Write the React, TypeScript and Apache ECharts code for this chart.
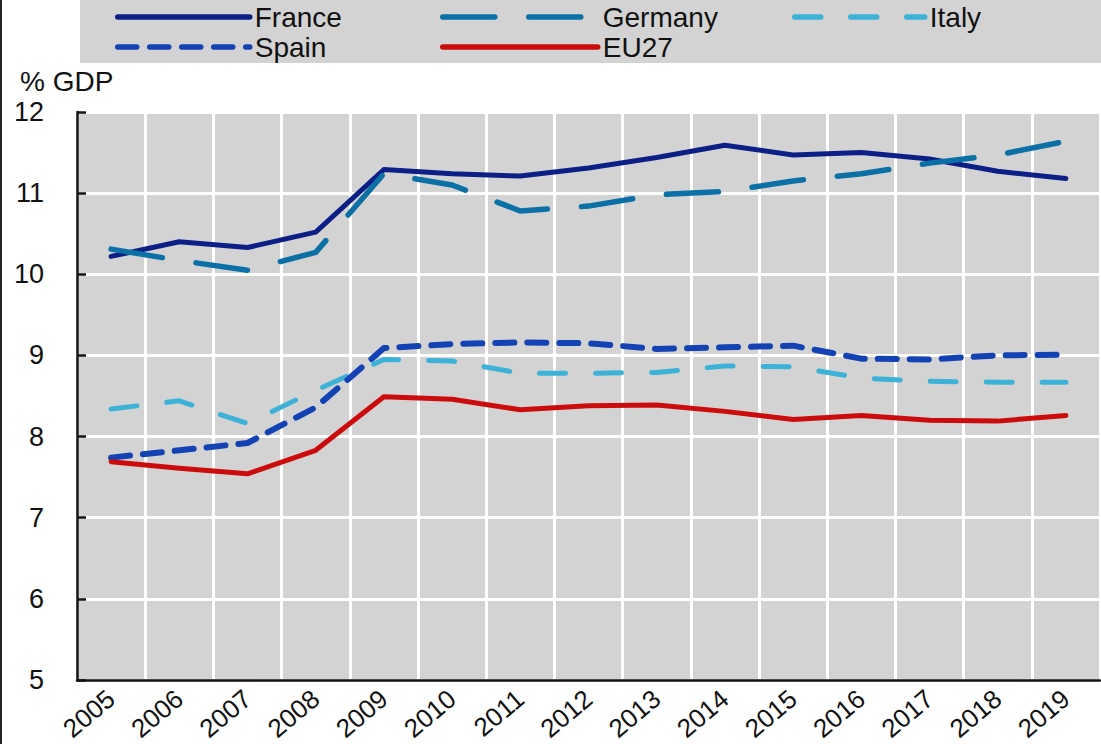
import React, { useEffect, useRef } from 'react';
import * as echarts from 'echarts';

const years = ['2005', '2006', '2007', '2008', '2009', '2010', '2011', '2012', '2013', '2014', '2015', '2016', '2017', '2018', '2019'];
const france = [10.22, 10.4, 10.33, 10.52, 11.29, 11.24, 11.21, 11.31, 11.44, 11.59, 11.47, 11.5, 11.42, 11.27, 11.18];
const germany = [10.31, 10.17, 10.05, 10.27, 11.24, 11.1, 10.78, 10.84, 10.98, 11.02, 11.15, 11.24, 11.37, 11.47, 11.64];
const italy = [8.34, 8.44, 8.16, 8.57, 8.95, 8.93, 8.78, 8.78, 8.79, 8.87, 8.86, 8.72, 8.68, 8.67, 8.67];
const spain = [7.74, 7.83, 7.92, 8.36, 9.09, 9.14, 9.16, 9.15, 9.08, 9.1, 9.12, 8.96, 8.95, 9.0, 9.01];
const eu27 = [7.69, 7.61, 7.54, 7.83, 8.49, 8.46, 8.33, 8.38, 8.39, 8.31, 8.21, 8.26, 8.2, 8.19, 8.26];
const yTicks = { min: 5, max: 12, interval: 1 };
const yUnit = '% GDP';

const FONT = 'Liberation Sans, Arial, sans-serif';

export default function App() {
  const ref = useRef<HTMLDivElement>(null);
  useEffect(() => {
    if (!ref.current) return;
    const chart = echarts.init(ref.current, undefined, { renderer: 'svg' });
    const mk = (name: string, data: number[], color: string, width: number, type: any) => ({
      name,
      type: 'line',
      data,
      symbol: 'none',
      showSymbol: false,
      lineStyle: { color, width, type, cap: 'round', join: 'round' },
      itemStyle: { color },
    });
    const legendBase = (name: string, left: number, top: number, itemWidth: number) => ({
      data: [name],
      left,
      top,
      itemWidth,
      itemHeight: 14,
      z: 5,
      itemStyle: { opacity: 0, borderWidth: 0 },
      lineStyle: { width: 5.5 },
      textStyle: { fontSize: 28, lineHeight: 28, color: '#111', fontFamily: FONT },
      padding: 0,
    });
    chart.setOption({
      animation: false,
      backgroundColor: '#fff',
      textStyle: { fontFamily: FONT },
      grid: { left: 77, right: 1, top: 112, bottom: 64, show: true, backgroundColor: '#d3d3d3', borderWidth: 0 },
      legend: [
        legendBase('France', 115, 3, 132),
        legendBase('Germany', 440, 3, 155),
        legendBase('Italy', 792, 3, 130),
        legendBase('Spain', 115, 33, 132),
        legendBase('EU27', 440, 33, 155),
      ],
      graphic: [
        { type: 'rect', z: 0, shape: { x: 80, y: 0, width: 1021, height: 63 }, style: { fill: '#d3d3d3' } },
        { type: 'rect', z: 0, shape: { x: 0, y: 0, width: 2, height: 744 }, style: { fill: '#222' } },
        { type: 'text', left: 20, top: 67, style: { text: yUnit, fontSize: 28, fill: '#111', fontFamily: FONT } },
      ],
      xAxis: {
        type: 'category',
        data: years,
        boundaryGap: true,
        axisLine: { lineStyle: { color: '#111', width: 2.5 } },
        axisTick: { inside: true, length: 7, lineStyle: { color: '#111', width: 2.5 } },
        axisLabel: { rotate: 40, fontSize: 26, color: '#111', margin: 15, fontFamily: FONT, interval: 0 },
        splitLine: { show: true, lineStyle: { color: '#fff', width: 3 } },
      },
      yAxis: {
        type: 'value',
        min: yTicks.min,
        max: yTicks.max,
        interval: yTicks.interval,
        axisLine: { show: true, lineStyle: { color: '#111', width: 2.5 } },
        axisTick: { show: true, inside: true, length: 9, lineStyle: { color: '#111', width: 2.5 } },
        axisLabel: { fontSize: 27, color: '#111', margin: 33, fontFamily: FONT },
        splitLine: { show: true, lineStyle: { color: '#fff', width: 3 } },
      },
      series: [
        mk('France', france, '#0c1f86', 5, 'solid'),
        mk('Germany', germany, '#0b70a6', 5.5, [52, 34]),
        mk('Italy', italy, '#3cb2d8', 5, [26, 30]),
        mk('Spain', spain, '#1242b4', 6, [19, 13]),
        mk('EU27', eu27, '#cc0c0c', 5, 'solid'),
      ],
    });
    return () => chart.dispose();
  }, []);
  return <div ref={ref} style={{ position: 'fixed', left: 0, top: 0, width: 1101, height: 744 }} />;
}
